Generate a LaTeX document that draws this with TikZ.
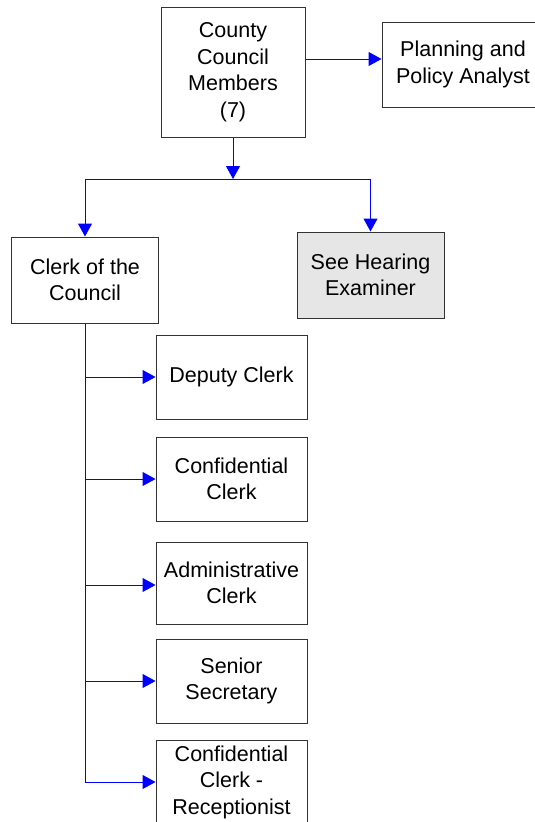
\documentclass[tikz,border=0pt]{standalone}
\usepackage{fontspec}
\setmainfont{Liberation Sans}
\usetikzlibrary{arrows.meta}
\definecolor{linkblue}{RGB}{0,0,255}
\definecolor{boxgray}{RGB}{230,230,230}
\tikzset{
  orgbox/.style={draw=black!80, line width=1pt, fill=white, align=center,
    font=\fontsize{21.5}{26.5}\selectfont, inner sep=2pt},
  link/.style={draw=linkblue, line width=1pt},
  arr/.style={link, -{Triangle[length=13pt,width=14pt]}}
}
\begin{document}
\begin{tikzpicture}[x=1pt,y=-1pt]
\clip (0,0) rectangle (535,822);
\fill[white] (0,0) rectangle (535,822);
\node[orgbox, minimum width=144pt, minimum height=130pt] (council) at (233,72) {County\\Council\\Members\\(7)};
\node[orgbox, minimum width=162pt, minimum height=85pt] (planning) at (463,64.5) {Planning and\\Policy Analyst};
\node[orgbox, minimum width=147pt, minimum height=86pt] (clerk) at (85,280) {Clerk of the\\Council};
\node[orgbox, fill=boxgray, minimum width=147pt, minimum height=86pt] (hearing) at (370.5,275) {See Hearing\\Examiner};
\node[orgbox, minimum width=151pt, minimum height=84pt] (deputy) at (231.5,377) {Deputy Clerk};
\node[orgbox, minimum width=151pt, minimum height=84pt] (conf) at (231.5,479) {Confidential\\Clerk};
\node[orgbox, minimum width=151pt, minimum height=82pt] (admin) at (231.5,583) {Administrative\\Clerk};
\node[orgbox, minimum width=151pt, minimum height=84pt] (senior) at (231.5,681) {Senior\\Secretary};
\node[orgbox, minimum width=151pt, minimum height=84pt] (recept) at (231.5,782) {Confidential\\Clerk -\\Receptionist};
\coordinate (j) at (233,179);
% top connectors
\draw[arr] ([yshift=13pt]council.east) -- ([yshift=13pt]council.east -| planning.west);
\draw[arr] (council.south) -- (j);
\draw[link] (j -| clerk) -- (j -| hearing);
\draw[arr] (j -| clerk) -- (clerk.north);
\draw[arr] (j -| hearing) -- (hearing.north);
% clerk's staff
\draw[link] (clerk.south) -- (clerk.south |- recept);
\draw[arr] (clerk.south |- deputy) -- (deputy.west);
\draw[arr] (clerk.south |- conf) -- (conf.west);
\draw[arr] ([yshift=-2pt]clerk.south |- admin) -- ([yshift=-2pt]admin.west);
\draw[arr] (clerk.south |- senior) -- (senior.west);
\draw[arr] (clerk.south |- recept) -- (recept.west);
\end{tikzpicture}
\end{document}
